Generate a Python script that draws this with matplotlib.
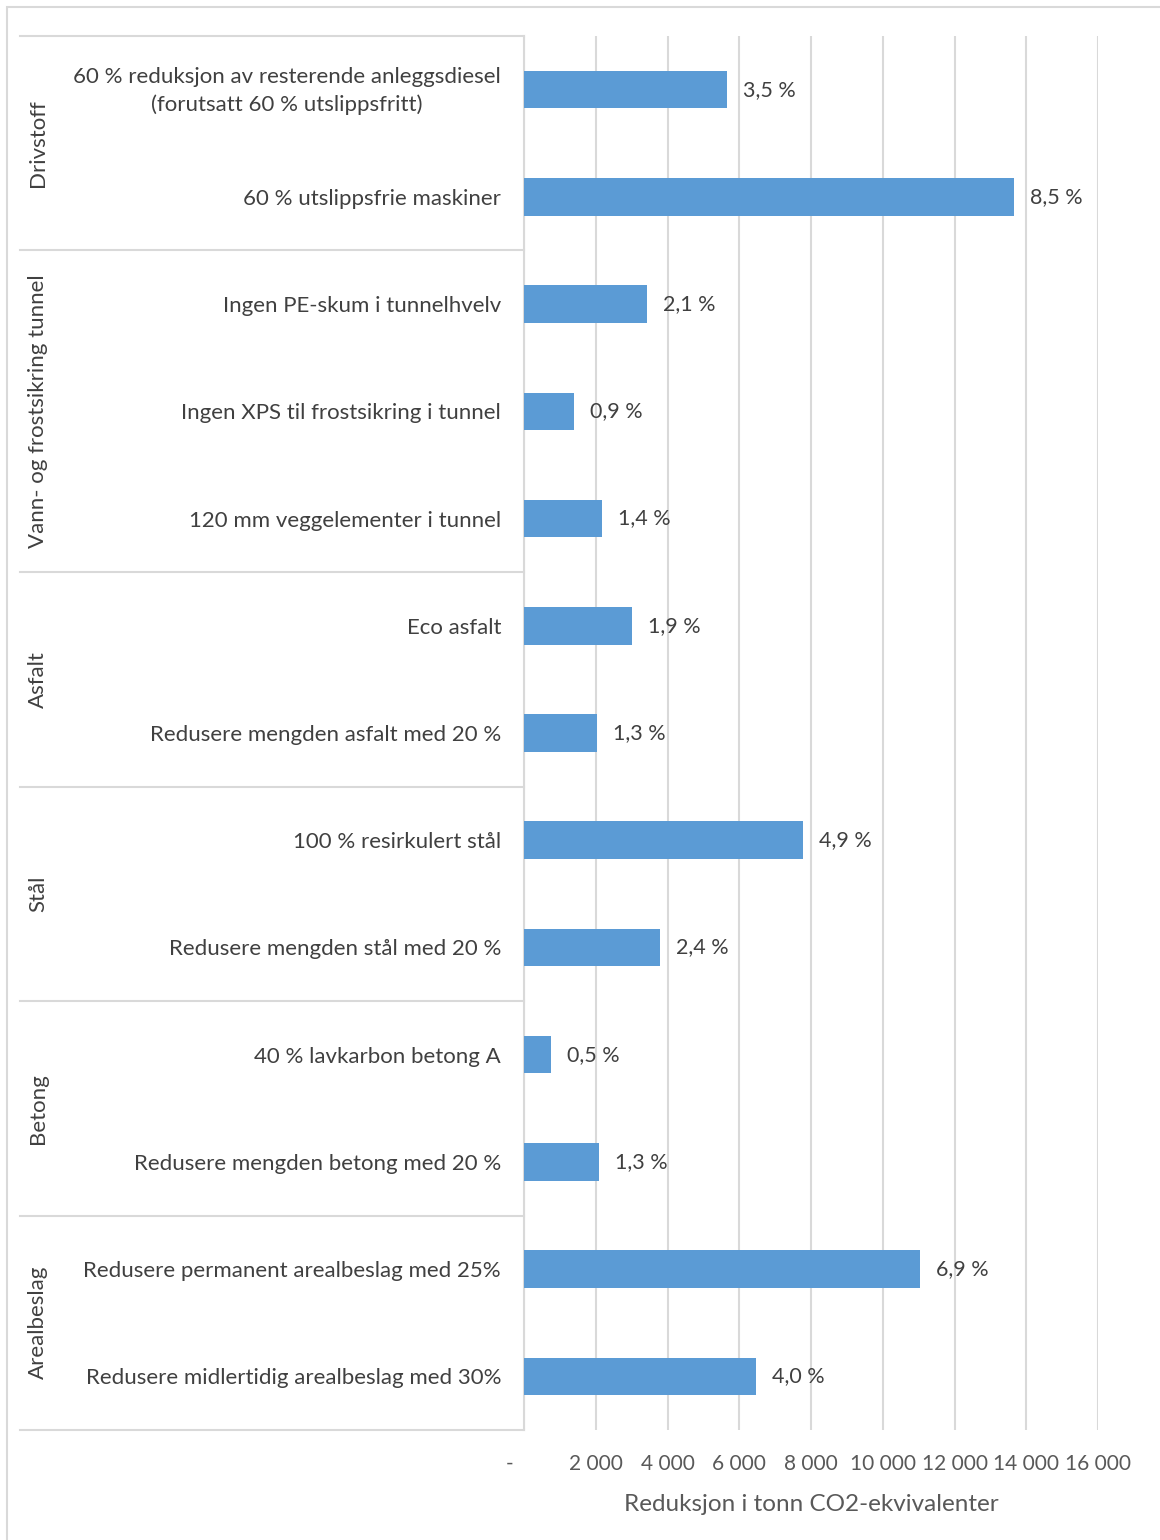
import matplotlib
matplotlib.use("Agg")
import matplotlib.pyplot as plt
from matplotlib.patches import Rectangle
from matplotlib.transforms import blended_transform_factory, ScaledTranslation

plt.rcParams['font.family'] = ['Lato', 'DejaVu Sans']

categories = [
    "60 % reduksjon av resterende anleggsdiesel\n(forutsatt 60 % utslippsfritt)",
    "60 % utslippsfrie maskiner",
    "Ingen PE-skum i tunnelhvelv",
    "Ingen XPS til frostsikring i tunnel",
    "120 mm veggelementer i tunnel",
    "Eco asfalt",
    "Redusere mengden asfalt med 20 %",
    "100 % resirkulert stål",
    "Redusere mengden stål med 20 %",
    "40 % lavkarbon betong A",
    "Redusere mengden betong med 20 %",
    "Redusere permanent arealbeslag med 25%",
    "Redusere midlertidig arealbeslag med 30%",
]
values = [5660, 13660, 3430, 1390, 2170, 3010, 2040, 7780, 3790, 750, 2090, 11040, 6470]
pct_labels = ["3,5 %", "8,5 %", "2,1 %", "0,9 %", "1,4 %", "1,9 %", "1,3 %",
              "4,9 %", "2,4 %", "0,5 %", "1,3 %", "6,9 %", "4,0 %"]
groups = ["Drivstoff", "Vann- og frostsikring tunnel", "Asfalt", "Stål", "Betong", "Arealbeslag"]
group_sizes = [2, 3, 2, 2, 2, 2]
xticks = [0, 2000, 4000, 6000, 8000, 10000, 12000, 14000, 16000]
xticklabels = ["-", "2 000", "4 000", "6 000", "8 000", "10 000", "12 000", "14 000", "16 000"]
xlabel = "Reduksjon i tonn CO2-ekvivalenter"

W, H = 1160, 1540
fig = plt.figure(figsize=(W / 100, H / 100), dpi=100)
ax_l, ax_r, ax_t, ax_b = 524, 1098, 36, 1430
ax = fig.add_axes([ax_l / W, 1 - ax_b / H, (ax_r - ax_l) / W, (ax_b - ax_t) / H])

# outer border
fig.patches.append(Rectangle((7 / W, -0.01), 1.1, 1 - 7 / H + 0.01, transform=fig.transFigure,
                             fill=False, edgecolor="#D9D9D9", linewidth=1.5))

n = len(categories)
ypos = list(range(n))
bar_color = "#5B9BD5"
ax.barh(ypos, values, height=0.35, color=bar_color, zorder=3)
ax.set_ylim(n - 0.5, -0.5)
ax.set_xlim(0, 16000)

ax.set_xticks(xticks)
ax.set_xticklabels(xticklabels, fontsize=15, color="#595959")
ax.tick_params(axis='x', length=0, pad=17)
ax.xaxis.grid(True, color="#D9D9D9", linewidth=1.5, zorder=0)
ax.set_axisbelow(True)
# shift "-" label left
lab0 = ax.get_xticklabels()[0]
lab0.set_transform(lab0.get_transform() + ScaledTranslation(-14 / 100, 0, fig.dpi_scale_trans))

ax.set_yticks(ypos)
ax.set_yticklabels(categories, fontsize=16, color="#404040", multialignment="center",
                   linespacing=1.4)
ax.tick_params(axis='y', length=0, pad=16.5)
ylab0 = ax.get_yticklabels()[0]
ylab0.set_transform(ylab0.get_transform() + ScaledTranslation(0, 4 / 100, fig.dpi_scale_trans))

for s in ["top", "right", "bottom"]:
    ax.spines[s].set_visible(False)
ax.spines["left"].set_color("#D9D9D9")
ax.spines["left"].set_linewidth(1.5)

ax.set_xlabel(xlabel, fontsize=17.5, color="#595959", labelpad=15)

# data labels
for y, v, t in zip(ypos, values, pct_labels):
    ax.annotate(t, (v, y), xytext=(11.5, 0), textcoords="offset points",
                va="center", ha="left", fontsize=15.5, color="#404040")

# group separators and labels
tr = blended_transform_factory(ax.transAxes, ax.transData)
x_left = (20 - ax_l) / (ax_r - ax_l)
x_grp = (38 - ax_l) / (ax_r - ax_l)
start = -0.5
ax.plot([x_left, 0], [start, start], transform=tr, color="#D9D9D9", lw=1.5, clip_on=False)
for g, sz in zip(groups, group_sizes):
    end = start + sz
    ax.plot([x_left, 0], [end, end], transform=tr, color="#D9D9D9", lw=1.5, clip_on=False)
    ax.text(x_grp, (start + end) / 2, g, transform=tr, rotation=90, ha="center", va="center",
            fontsize=16, color="#404040")
    start = end

fig.savefig("out.png", dpi=100)
